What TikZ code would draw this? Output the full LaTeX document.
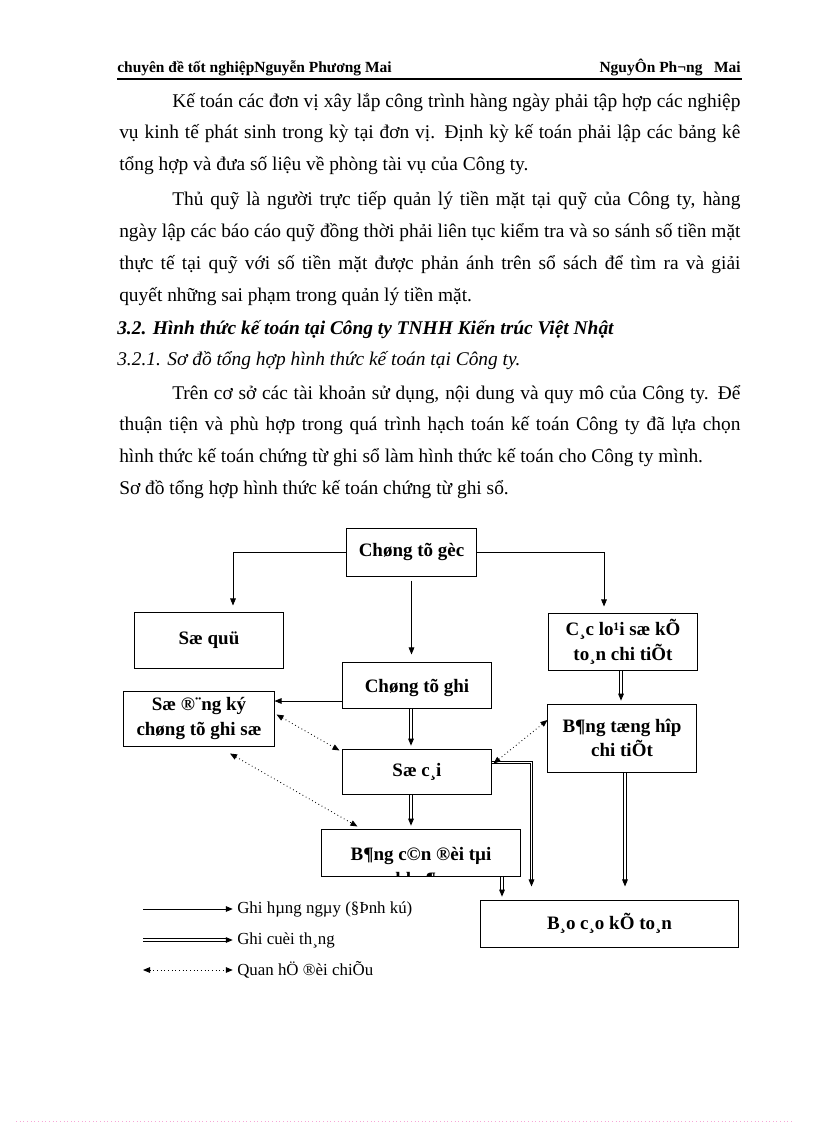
\documentclass[tikz,border=0pt]{standalone}
\usepackage{fontspec}
\setmainfont{Liberation Serif}
\usetikzlibrary{arrows.meta,calc}

\begin{document}
\begin{tikzpicture}[x=0.025cm, y=-0.025cm,
    >={Triangle[length=5pt,width=4pt]},
    box/.style={draw, line width=0.7pt, align=center, inner sep=2pt,
        font=\fontsize{13.5}{17.5}\selectfont\bfseries},
    boxtext/.style={align=center, inner sep=0pt,
        font=\fontsize{13.5}{17.5}\selectfont\bfseries},
    body/.style={anchor=base west, inner sep=0pt, font=\fontsize{13.8}{16}\selectfont},
    key/.style={anchor=west, inner sep=0pt, font=\fontsize{12}{14}\selectfont},
    daily/.style={->, line width=0.6pt},
    monthly/.style={->, double, line width=0.7pt, double distance=1.2pt},
    check/.style={<->, dotted, line width=0.6pt},
  ]
  \useasboundingbox (0,0) rectangle (816,1123);

  % Header
  \node[anchor=base west, inner sep=0pt, font=\fontsize{11}{13}\selectfont\bfseries] (hleft) at (117,73) {chuyên đề tốt nghiệpNguyễn Phương Mai};
  \node[anchor=base east, inner sep=0pt, font=\fontsize{11}{13}\selectfont\bfseries] (hright) at (741,73) {NguyÔn Ph¬ng\ \ \ Mai};
  \draw[line width=1.4pt] (117,79) -- (742,79);

  % Text above the chart
  \node[body] (l1) at (172,108) {\makebox[14.2cm][s]{Kế toán các đơn vị xây lắp công trình hàng ngày phải tập hợp các nghiệp}};
  \node[body] (l2) at (119,139) {\makebox[15.525cm][s]{vụ kinh tế phát sinh trong kỳ tại đơn vị. Định kỳ kế toán phải lập các bảng kê}};
  \node[body] (l3) at (119,171) {tổng hợp và đưa số liệu về phòng tài vụ của Công ty.};
  \node[body] (l4) at (172,205) {\makebox[14.2cm][s]{Thủ quỹ là người trực tiếp quản lý tiền mặt tại quỹ của Công ty, hàng}};
  \node[body] (l5) at (119,237) {\makebox[15.525cm][s]{ngày lập các báo cáo quỹ đồng thời phải liên tục kiểm tra và so sánh số tiền mặt}};
  \node[body] (l6) at (119,269) {\makebox[15.525cm][s]{thực tế tại quỹ với số tiền mặt được phản ánh trên sổ sách để tìm ra và giải}};
  \node[body] (l7) at (119,301) {quyết những sai phạm trong quản lý tiền mặt.};
  \node[body, font=\fontsize{13.8}{16}\selectfont\bfseries\itshape] (h1) at (117,334) {3.2. Hình thức kế toán tại Công ty TNHH Kiến trúc Việt Nhật};
  \node[body, font=\fontsize{13.8}{16}\selectfont\itshape] (h2) at (117,365) {3.2.1. Sơ đồ tổng hợp hình thức kế toán tại Công ty.};
  \node[body] (l8) at (172,399) {\makebox[14.2cm][s]{Trên cơ sở các tài khoản sử dụng, nội dung và quy mô của Công ty. Để}};
  \node[body] (l9) at (119,430) {\makebox[15.525cm][s]{thuận tiện và phù hợp trong quá trình hạch toán kế toán Công ty đã lựa chọn}};
  \node[body] (l10) at (119,462) {hình thức kế toán chứng từ ghi sổ làm hình thức kế toán cho Công ty mình.};
  \node[body] (l11) at (119,494) {Sơ đồ tổng hợp hình thức kế toán chứng từ ghi sổ.};

  % Boxes
  \node[box, minimum width=3.225cm, minimum height=1.2cm] (gec) at (411.5,552) {Chøng tõ gèc};
  \node[box, minimum width=3.7cm, minimum height=1.4cm] (quy) at (209,640) {Sæ quü};
  \node[box, minimum width=3.7cm, minimum height=1.425cm] (chitiet) at (623,641.5) {C¸c lo¹i sæ kÕ\\to¸n chi tiÕt};
  \node[box, minimum width=3.7cm, minimum height=1.15cm] (ctghi) at (417,685) {};
  \node[box, minimum width=3.75cm, minimum height=1.375cm] (dangky) at (199,718.5) {Sæ ®¨ng ký\\chøng tõ ghi sæ};
  \node[box, minimum width=3.7cm, minimum height=1.7cm] (tonghop) at (622,738) {B¶ng tæng hîp\\chi tiÕt};
  \node[box, minimum width=3.7cm, minimum height=1.125cm] (socai) at (417,771.5) {Sæ c¸i};
  \node[box, minimum width=4.95cm, minimum height=1.175cm] (candoi) at (421,852.5) {};
  \node[box, minimum width=6.425cm, minimum height=1.175cm] (baocao) at (609.5,923.5) {B¸o c¸o kÕ to¸n};

  % Texts cut off by their boxes
  \begin{scope}
    \clip (ctghi.south west) rectangle (ctghi.north east);
    \node[boxtext] (ctghitxt) at (417,698.5) {Chøng tõ ghi\\sæ};
  \end{scope}
  \begin{scope}
    \clip (candoi.south west) rectangle (candoi.north east);
    \node[boxtext] (candoitxt) at (421,867.5) {B¶ng c©n ®èi tµi\\kho¶n};
  \end{scope}

  % Daily entries
  \draw[daily] (gec.west) -| ($(quy.north)+(24,-6)$);
  \draw[daily] (gec.east) -| ($(chitiet.north)+(-19,-6)$);
  \draw[daily, shorten <=3pt, shorten >=5pt] (gec.south) -- (gec.south |- ctghi.north);
  \draw[daily] ($(ctghi.west)+(0,16)$) -- ($(dangky.east |- ctghi.west)+(0,16)$);

  % Monthly entries
  \draw[monthly, shorten >=2pt] ($(ctghi.south)+(-6,0)$) -- ($(socai.north)+(-6,0)$);
  \draw[monthly, shorten >=2pt] ($(socai.south)+(-6,0)$) -- ($(socai.south |- candoi.north)+(-6,0)$);
  \draw[monthly] ($(socai.east)+(0,-9)$) -| ($(baocao.north)+(-78,-13)$);
  \draw[monthly, shorten >=2pt] ($(candoi.south)+(81,0)$) -- ($(candoi.south |- baocao.north)+(81,0)$);
  \draw[monthly, shorten >=2pt] ($(chitiet.south)+(-2,0)$) -- ($(chitiet.south |- tonghop.north)+(-2,0)$);
  \draw[monthly] ($(tonghop.south)+(3,0)$) -- ($(tonghop.south |- baocao.north)+(3,-13)$);

  % Cross checks
  \draw[check] ($(dangky.east)+(2,-4)$) -- ($(socai.north west)+(-3,2)$);
  \draw[check] ($(socai.north east)+(2,15)$) -- ($(tonghop.west)+(0,-18)$);
  \draw[check] ($(dangky.south)+(31,7)$) -- ($(candoi.north west)+(36,-2)$);

  % Legend
  \node[key] (kdaily) at (237,909) {Ghi hµng ngµy (§Þnh kú)};
  \node[key] (kmonthly) at (237,940) {Ghi cuèi th¸ng};
  \node[key] (kcheck) at (237,970) {Quan hÖ ®èi chiÕu};
  \coordinate (sdaily) at (143,909);
  \coordinate (smonthly) at (143,940);
  \coordinate (scheck) at (143,970);
  \draw[daily, shorten >=3pt] (sdaily) -- (kdaily.west);
  \draw[monthly, shorten >=3pt] (smonthly) -- (kmonthly.west);
  \draw[check, shorten >=3pt] (scheck) -- (kcheck.west);

  % Page edge
  \draw[magenta!35, dotted, line width=0.6pt] (16,1121) -- (792,1121);
\end{tikzpicture}
\end{document}
